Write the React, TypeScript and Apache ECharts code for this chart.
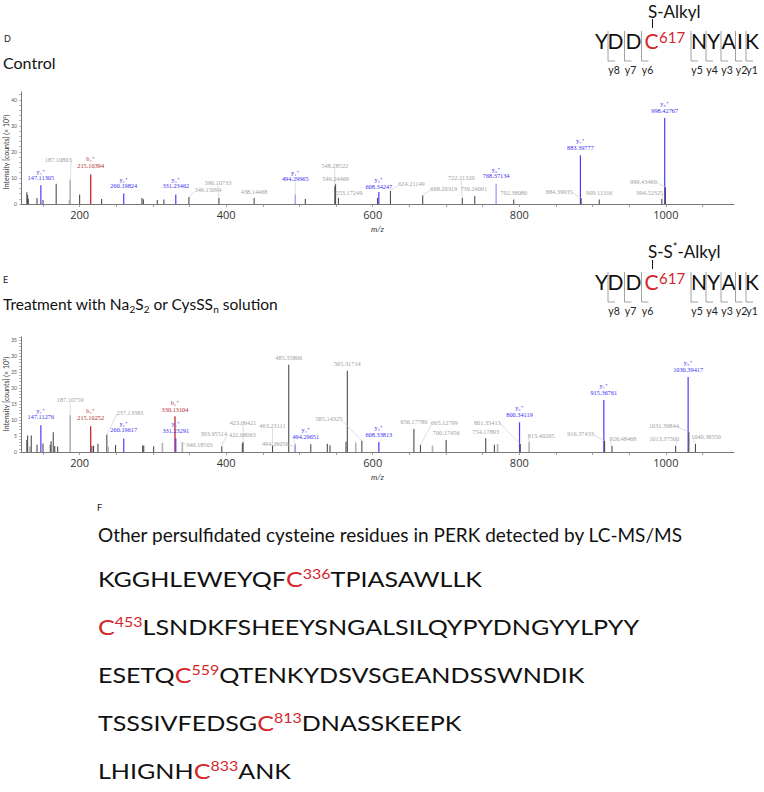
import React, { useEffect, useRef } from 'react';
import * as echarts from 'echarts';

const SANS = 'Lato, "Open Sans", sans-serif';
const SERIF = '"Liberation Serif", "DejaVu Serif", serif';

// ---------- Panel D (Control) ----------
const dPeakMz = [128, 129, 130, 141.8, 147.11305, 150, 168, 186, 187.10803, 200, 215.10394, 230, 260.19824, 285, 287, 306, 315, 331.23462, 349.15094, 390.10733, 438.14468, 494.29965, 508, 548.28522, 549.24469, 553.17249, 606.5, 608.34247, 624.21149, 668.20319, 722.2132, 739.24091, 768.37134, 792.3808, 883.39777, 884.39935, 909.11316, 994.52325, 998.42767, 999.43469];
const dPeakInt = [4.5, 3.5, 2, 2.3, 7.2, 1.5, 7.8, 1.7, 9.1, 3.6, 11.3, 1.9, 4.0, 2.3, 1.8, 1.5, 1.7, 3.6, 2.7, 2.3, 2.3, 3.6, 1.9, 6.8, 7.7, 2.3, 2.3, 4.6, 5.1, 3.3, 2.3, 3.1, 7.8, 1.7, 18.7, 2.3, 1.7, 1.9, 33, 6.5];
const dPeakKind = ['g', 'g', 'g', 'g', 'b', 'g', 'g', 'l', 'l', 'g', 'r', 'g', 'b', 'g', 'g', 'g', 'g', 'b', 'g', 'g', 'g', 'lb', 'g', 'g', 'g', 'g', 'g', 'b', 'g', 'g', 'g', 'g', 'lb', 'g', 'b', 'g', 'g', 'g', 'b', 'g'];
const dLabelMz = ['147.11305', '187.10803', '215.10394', '260.19824', '331.23462', '349.15094', '390.10733', '438.14468', '494.29965', '548.28522', '549.24469', '553.17249', '608.34247', '624.21149', '668.20319', '722.21320', '739.24091', '768.37134', '792.38080', '883.39777', '884.39935', '909.11316', '994.52325', '998.42767', '999.43469'];
const dLabelIon = ['y₁⁺', '', 'b₂⁺', 'y₂⁺', 'y₃⁺', '', '', '', 'y₄⁺', '', '', '', 'y₅⁺', '', '', '', '', 'y₆⁺', '', 'y₇⁺', '', '', '', 'y₈⁺', ''];
// label offsets (px) from the peak top
const dLabelOffset = [[0, -7.5], [-12, -21], [0, -9.5], [0, -7.7], [0, -8.7], [19, -7], [-1, -16], [0, -7], [0, -16], [0, -21], [0, -5.7], [10.5, -6], [0, -6], [21, -7], [21, -7], [-1, -21], [-1, -7], [0, -7.7], [0, -7], [0, -7.7], [-22, -7], [0, -7], [-12, -7], [0, -8], [-22, -6]];

// ---------- Panel E (Na2S2 / CysSSn) ----------
const ePeakMz = [128, 129, 132, 134, 141.8, 147.11276, 150, 160, 161, 164, 166, 170, 187.10759, 215.10252, 216.8, 219, 225, 237.13383, 239, 249, 260.19617, 286, 287.5, 301, 313, 330.13104, 331.23291, 340.18503, 393.95514, 422.08063, 423.06421, 463.23111, 485.35806, 494.26056, 494.29651, 515.4, 538, 541.7, 563.5, 565.31714, 576.8, 585.14325, 608.33813, 656.17786, 665.12799, 681.5, 700.17456, 754.17893, 766, 770.4, 800.34119, 801.35413, 813.40265, 915.36761, 916.37433, 926.48468, 1013.375, 1030.39417, 1031.39844, 1040.3855];
const ePeakInt = [3.75, 5.2, 1.7, 5.2, 2.3, 8.4, 2.7, 2.3, 3.4, 6.2, 1.9, 1.7, 11.5, 8.1, 1.9, 2.0, 2.6, 5.4, 1.7, 2.2, 4.2, 2.0, 2.0, 1.8, 2.9, 11.2, 4.3, 3.1, 1.8, 2.7, 3.1, 2.0, 27.3, 1.9, 2.5, 2.4, 2.6, 2.1, 3.2, 25.4, 3.0, 3.5, 3.1, 7.2, 2.2, 2.0, 3.75, 4.3, 2.3, 2.5, 9.3, 2.5, 3.1, 16.25, 3.5, 1.9, 1.9, 23.5, 6.25, 2.5];
const ePeakKind = ['g', 'g', 'l', 'g', 'g', 'b', 'g', 'g', 'g', 'g', 'g', 'g', 'l', 'r', 'g', 'g', 'g', 'g', 'l', 'g', 'b', 'g', 'g', 'g', 'l', 'r', 'b', 'l', 'g', 'g', 'g', 'g', 'g', 'g', 'lb', 'g', 'g', 'g', 'g', 'g', 'l', 'g', 'b', 'g', 'g', 'l', 'g', 'g', 'g', 'l', 'b', 'g', 'l', 'b', 'g', 'g', 'g', 'b', 'g', 'g'];
const eLabelMz = ['147.11276', '187.10759', '215.10252', '237.13383', '260.19617', '330.13104', '331.23291', '340.18503', '393.95514', '423.06421', '422.08063', '463.23111', '485.35806', '494.26056', '494.29651', '565.31714', '585.14325', '608.33813', '656.17786', '665.12799', '700.17456', '754.17893', '801.35413', '800.34119', '813.40265', '915.36761', '916.37433', '926.48468', '1013.37500', '1030.39417', '1031.39844', '1040.38550'];
const eLabelIon = ['y₁⁺', '', 'b₂⁺', '', 'y₂⁺', 'b₃⁺', 'y₃⁺', '', '', '', '', '', '', '', 'y₄⁺', '', '', 'y₅⁺', '', '', '', '', '', 'y₆⁺', '', 'y₇⁺', '', '', '', 'y₈⁺', '', ''];
const eLabelOffset = [[0, -8.4], [0, -16], [0, -8.7], [23, -22], [0, -8.6], [0, -7], [0, -8.2], [17, 2], [-8, -13], [0, -20], [0, -8.4], [0, -20], [0, -7], [-20, -2], [10.5, -8], [0, -7], [-33, -22], [0, -8], [0, -7.3], [24, -22], [0, -7.3], [0, -7.2], [-33, -22], [0, -8], [12, -7], [0, -8], [-24, -7.5], [11, -7.6], [-11.5, -7.6], [0, -7.8], [-25, -7], [10.5, -7.3]];

// ---------- axes ----------
const xLabelValues = [200, 400, 600, 800, 1000];
const xTickValues = [150, 200, 250, 300, 350, 400, 450, 500, 550, 600, 650, 700, 750, 800, 850, 900, 950, 1000, 1050];
const dYLabels = [0, 10, 20, 30, 40];
const eYLabels = [0, 5, 10, 15, 20, 25, 30, 35];
const yAxisTitle = 'Intensity [counts] (× 10³)';
const xAxisTitle = 'm/z';

// ---------- peptide ----------
const residues = ['Y', 'D', 'D', 'C', 'N', 'Y', 'A', 'I', 'K'];
const modSite = '617';
const yIonNames = ['y8', 'y7', 'y6', 'y5', 'y4', 'y3', 'y2', 'y1'];

// ---------- panel F ----------
const seqPre = ['KGGHLEWEYQF', '', 'ESETQ', 'TSSSIVFEDSG', 'LHIGNH'];
const seqSite = ['336', '453', '559', '813', '833'];
const seqPost = ['TPIASAWLLK', 'LSNDKFSHEEYSNGALSILQYPYDNGYYLPYY', 'QTENKYDSVSGEANDSSWNDIK', 'DNASSKEEPK', 'ANK'];

// layout constants
const residueX = [601.5, 615.5, 633.5, 651.5, 699, 713.5, 728.5, 740, 752];
const yIonX = [608, 624.5, 641.5, 691, 706, 721, 735.5, 746];
const RED = '#d5262b';
const KIND_KEYS = ['g', 'l', 'b', 'lb', 'r'];
const KIND_COLORS = ['#4d4d4d', '#b3b3b3', '#4b3bff', '#a79fff', '#c0282d'];
const KIND_WIDTH = [1.1, 1.6, 1.2, 1.4, 1.3];

function peakSeries(mz: number[], it: number[], kind: string[], idx: number) {
  return {
    type: 'custom',
    xAxisIndex: idx,
    yAxisIndex: idx,
    coordinateSystem: 'cartesian2d',
    encode: { x: 0, y: 1 },
    clip: false,
    z: 2,
    data: mz.map((m, i) => [m, it[i], KIND_KEYS.indexOf(kind[i])]),
    renderItem: (params: any, api: any) => {
      const k = api.value(2);
      const p0 = api.coord([api.value(0), 0]);
      const p1 = api.coord([api.value(0), api.value(1)]);
      return {
        type: 'line',
        shape: { x1: p0[0], y1: p0[1], x2: p1[0], y2: p1[1] },
        style: { stroke: KIND_COLORS[k], lineWidth: KIND_WIDTH[k] },
      };
    },
  };
}

function labelSeries(mz: number[], it: number[], labels: string[], ions: string[], offs: number[][], idx: number) {
  const data = labels.map((s) => {
    const v = parseFloat(s);
    let best = 0;
    for (let j = 0; j < mz.length; j++) if (Math.abs(mz[j] - v) < Math.abs(mz[best] - v)) best = j;
    return [v, it[best]];
  });
  return {
    type: 'custom',
    xAxisIndex: idx,
    yAxisIndex: idx,
    coordinateSystem: 'cartesian2d',
    encode: { x: 0, y: 1 },
    clip: false,
    z: 3,
    data,
    renderItem: (params: any, api: any) => {
      const i = params.dataIndex;
      const top = api.coord([api.value(0), api.value(1)]);
      const dx = offs[i][0];
      const dy = offs[i][1];
      const lx = top[0] + dx;
      const ly = top[1] + dy;
      const ion = ions[i];
      const col = ion.startsWith('y') ? '#3b2cf2' : ion.startsWith('b') ? '#b3282d' : '#a0a0a0';
      const children: any[] = [];
      if (Math.abs(dx) > 6 || dy < -12) {
        let sx = lx;
        let sy = ly + 3;
        if (dx > 6) { sx = lx - 13; sy = ly + 1.5; }
        else if (dx < -6) { sx = lx + 13; sy = ly + 1.5; }
        children.push({
          type: 'line',
          shape: { x1: sx, y1: sy, x2: top[0], y2: top[1] },
          style: { stroke: '#c8c8c8', lineWidth: 0.6 },
        });
      }
      children.push({
        type: 'text', x: lx, y: ly,
        style: { text: labels[i], fill: col, fontSize: 6.3, fontFamily: SERIF, align: 'center', verticalAlign: 'middle' },
      });
      if (ion) {
        children.push({
          type: 'text', x: lx, y: ly - 6.6,
          style: { text: ion, fill: col, fontSize: 6.3, fontFamily: SERIF, align: 'center', verticalAlign: 'middle' },
        });
      }
      return { type: 'group', children };
    },
  };
}

function xAxis(idx: number) {
  return {
    type: 'value', gridIndex: idx, min: 120, max: 1093,
    name: xAxisTitle, nameLocation: 'middle', nameGap: 21,
    nameTextStyle: { fontStyle: 'italic', fontSize: 8, color: '#333', fontFamily: SANS },
    axisLine: { show: true, lineStyle: { color: '#777', width: 1 } },
    axisTick: { show: true, customValues: xTickValues, length: 3, lineStyle: { color: '#888', width: 0.8 } },
    axisLabel: {
      customValues: xLabelValues, fontSize: 11, color: '#333', margin: 5, fontFamily: '"Open Sans", sans-serif',
      formatter: (v: number) => String(v),
    },
    splitLine: { show: false },
  };
}

function yAxis(idx: number, max: number, labels: number[], step: number) {
  const ticks: number[] = [];
  for (let v = 0; v <= max; v += step) ticks.push(v);
  return {
    type: 'value', gridIndex: idx, min: 0, max,
    axisLine: { show: true, lineStyle: { color: '#777', width: 1 } },
    axisTick: { show: true, customValues: ticks, length: 2, lineStyle: { color: '#888', width: 0.6 } },
    axisLabel: { customValues: labels, fontSize: 5, color: '#555', margin: 4, fontFamily: SANS, formatter: (v: number) => String(v) },
    splitLine: { show: false },
  };
}

function peptideGraphics(yOff: number, modRich: string, modY: number) {
  const els: any[] = [];
  els.push({
    type: 'text', x: 648, y: modY,
    style: {
      text: modRich, fontSize: 17, fontFamily: SANS, fill: '#111', align: 'left', verticalAlign: 'middle',
      rich: {
        m: { fontSize: 17, fontFamily: SANS, fill: '#111', lineHeight: 20 },
        s: { fontSize: 11, fontFamily: SANS, fill: '#111', lineHeight: 11, verticalAlign: 'top' },
      },
    },
  });
  els.push({ type: 'line', shape: { x1: 652.5, y1: 19 + yOff, x2: 652.5, y2: 28 + yOff }, style: { stroke: '#111', lineWidth: 1 } });
  residues.forEach((r, i) => {
    els.push({
      type: 'text', x: residueX[i], y: 40 + yOff,
      style: { text: r, fontSize: 21, fontFamily: SANS, fill: i === 3 ? RED : '#111', align: 'center', verticalAlign: 'middle' },
    });
  });
  els.push({
    type: 'text', x: 659, y: 36.5 + yOff,
    style: { text: modSite, fontSize: 15, fontFamily: SANS, fill: RED, align: 'left', verticalAlign: 'middle' },
  });
  yIonNames.forEach((n, i) => {
    const bx = yIonX[i];
    els.push({ type: 'line', shape: { x1: bx, y1: 31 + yOff, x2: bx, y2: 61 + yOff }, style: { stroke: '#8a8a8a', lineWidth: 0.8 } });
    els.push({ type: 'line', shape: { x1: bx, y1: 61 + yOff, x2: bx + 7, y2: 61 + yOff }, style: { stroke: '#8a8a8a', lineWidth: 0.8 } });
    els.push({
      type: 'text', x: bx + 6, y: 70 + yOff,
      style: { text: n, fontSize: 10.5, fontFamily: SANS, fill: '#222', align: 'center', verticalAlign: 'middle' },
    });
  });
  return els;
}

function seqGraphics() {
  const els: any[] = [];
  seqPre.forEach((pre, i) => {
    let t = '';
    if (pre) t += `{k|${pre}}`;
    t += `{c|C}{s|${seqSite[i]}}{k|${seqPost[i]}}`;
    els.push({
      type: 'text', x: 98, y: 579 + i * 48, scaleX: 1.14,
      style: {
        text: t, fontSize: 22, fontFamily: SANS, fill: '#111', align: 'left', verticalAlign: 'middle',
        rich: {
          k: { fontSize: 22, fontFamily: SANS, fill: '#111', lineHeight: 26 },
          c: { fontSize: 22, fontFamily: SANS, fill: RED, lineHeight: 26 },
          s: { fontSize: 14, fontFamily: SANS, fill: RED, lineHeight: 14, verticalAlign: 'top' },
        },
      },
    });
  });
  return els;
}

export default function App() {
  const ref = useRef<HTMLDivElement>(null);
  useEffect(() => {
    document.body.style.margin = '0';
    if (!ref.current) return;
    const chart = echarts.init(ref.current, null, { renderer: 'svg' });
    const graphics: any[] = [
      { type: 'text', x: 4, y: 38, style: { text: 'D', fontSize: 9, fontFamily: SANS, fill: '#222', verticalAlign: 'middle' } },
      { type: 'text', x: 3, y: 62, style: { text: 'Control', fontSize: 16, fontFamily: SANS, fill: '#111', verticalAlign: 'middle' } },
      { type: 'text', x: 3, y: 279, style: { text: 'E', fontSize: 9, fontFamily: SANS, fill: '#222', verticalAlign: 'middle' } },
      {
        type: 'text', x: 3, y: 304,
        style: {
          text: '{m|Treatment with Na}{b|2}{m|S}{b|2}{m| or CysSS}{b|n}{m| solution}',
          fontSize: 15.5, fontFamily: SANS, fill: '#111', verticalAlign: 'middle',
          rich: {
            m: { fontSize: 15.5, fontFamily: SANS, fill: '#111', lineHeight: 20 },
            b: { fontSize: 10, fontFamily: SANS, fill: '#111', lineHeight: 10, verticalAlign: 'bottom' },
          },
        },
      },
      { type: 'text', x: 6, y: 152, rotation: Math.PI / 2, style: { text: yAxisTitle, fontSize: 7, fontFamily: SANS, fill: '#333', align: 'center', verticalAlign: 'middle' } },
      { type: 'text', x: 6, y: 394, rotation: Math.PI / 2, style: { text: yAxisTitle, fontSize: 7, fontFamily: SANS, fill: '#333', align: 'center', verticalAlign: 'middle' } },
      ...peptideGraphics(0, '{m|S-Alkyl}', 11),
      ...peptideGraphics(241, '{m|S-S}{s|*}{m|-Alkyl}', 251),
      { type: 'text', x: 97, y: 507, style: { text: 'F', fontSize: 9, fontFamily: SANS, fill: '#222', verticalAlign: 'middle' } },
      { type: 'text', x: 98, y: 534, style: { text: 'Other persulfidated cysteine residues in PERK detected by LC-MS/MS', fontSize: 19, fontFamily: SANS, fill: '#111', verticalAlign: 'middle' } },
      ...seqGraphics(),
    ];
    chart.setOption({
      animation: false,
      backgroundColor: '#ffffff',
      grid: [
        { left: 21, top: 92, width: 713, height: 112, containLabel: false, outerBoundsMode: 'none' },
        { left: 21, top: 337, width: 713, height: 115, containLabel: false, outerBoundsMode: 'none' },
      ],
      xAxis: [xAxis(0), xAxis(1)],
      yAxis: [yAxis(0, 43, dYLabels, 2), yAxis(1, 36, eYLabels, 1)],
      series: [
        peakSeries(dPeakMz, dPeakInt, dPeakKind, 0),
        labelSeries(dPeakMz, dPeakInt, dLabelMz, dLabelIon, dLabelOffset, 0),
        peakSeries(ePeakMz, ePeakInt, ePeakKind, 1),
        labelSeries(ePeakMz, ePeakInt, eLabelMz, eLabelIon, eLabelOffset, 1),
      ],
      graphic: graphics,
    });
    return () => chart.dispose();
  }, []);
  return <div ref={ref} style={{ width: 764, height: 792 }} />;
}
